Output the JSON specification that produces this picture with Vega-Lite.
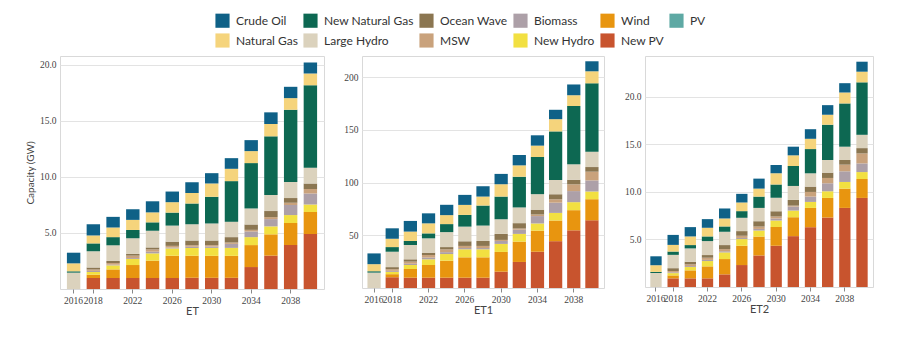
{
  "$schema": "https://vega.github.io/schema/vega-lite/v6.json",
  "background": "white",
  "padding": {"left": 24, "top": 13, "right": 5, "bottom": 5},
  "datasets": {
    "cap": [
      {"panel":"ET","year":"2016","New PV":0,"Wind":0,"New Hydro":0,"Biomass":0,"MSW":0,"Ocean Wave":0,"Large Hydro":1.46,"New Natural Gas":0.12,"Natural Gas":0.71,"Crude Oil":0.95},
      {"panel":"ET","year":"2018","New PV":0.98,"Wind":0.3,"New Hydro":0.24,"Biomass":0.1,"MSW":0.12,"Ocean Wave":0.18,"Large Hydro":1.45,"New Natural Gas":0.7,"Natural Gas":0.71,"Crude Oil":1.0},
      {"panel":"ET","year":"2020","New PV":0.98,"Wind":0.77,"New Hydro":0.36,"Biomass":0.06,"MSW":0.15,"Ocean Wave":0.18,"Large Hydro":1.4,"New Natural Gas":0.73,"Natural Gas":0.86,"Crude Oil":0.95},
      {"panel":"ET","year":"2022","New PV":0.98,"Wind":1.16,"New Hydro":0.54,"Biomass":0.08,"MSW":0.22,"Ocean Wave":0.15,"Large Hydro":1.4,"New Natural Gas":0.74,"Natural Gas":0.9,"Crude Oil":0.95},
      {"panel":"ET","year":"2024","New PV":0.98,"Wind":1.55,"New Hydro":0.65,"Biomass":0.15,"MSW":0.2,"Ocean Wave":0.18,"Large Hydro":1.49,"New Natural Gas":0.75,"Natural Gas":0.89,"Crude Oil":0.99},
      {"panel":"ET","year":"2026","New PV":0.98,"Wind":1.99,"New Hydro":0.65,"Biomass":0.08,"MSW":0.15,"Ocean Wave":0.38,"Large Hydro":1.43,"New Natural Gas":1.16,"Natural Gas":0.93,"Crude Oil":0.95},
      {"panel":"ET","year":"2028","New PV":1.0,"Wind":1.96,"New Hydro":0.71,"Biomass":0.1,"MSW":0.14,"Ocean Wave":0.42,"Large Hydro":1.46,"New Natural Gas":1.85,"Natural Gas":0.92,"Crude Oil":0.98},
      {"panel":"ET","year":"2030","New PV":1.0,"Wind":1.96,"New Hydro":0.71,"Biomass":0.12,"MSW":0.12,"Ocean Wave":0.42,"Large Hydro":1.52,"New Natural Gas":2.38,"Natural Gas":1.19,"Crude Oil":0.92},
      {"panel":"ET","year":"2032","New PV":1.0,"Wind":1.96,"New Hydro":0.71,"Biomass":0.36,"MSW":0.12,"Ocean Wave":0.48,"Large Hydro":1.37,"New Natural Gas":3.63,"Natural Gas":1.1,"Crude Oil":0.95},
      {"panel":"ET","year":"2034","New PV":1.96,"Wind":1.96,"New Hydro":0.71,"Biomass":0.5,"MSW":0.15,"Ocean Wave":0.48,"Large Hydro":1.43,"New Natural Gas":4.05,"Natural Gas":1.07,"Crude Oil":0.98},
      {"panel":"ET","year":"2036","New PV":2.98,"Wind":1.9,"New Hydro":0.71,"Biomass":0.65,"MSW":0.18,"Ocean Wave":0.54,"Large Hydro":1.43,"New Natural Gas":5.24,"Natural Gas":1.1,"Crude Oil":1.04},
      {"panel":"ET","year":"2038","New PV":3.93,"Wind":1.96,"New Hydro":0.71,"Biomass":0.9,"MSW":0.2,"Ocean Wave":0.42,"Large Hydro":1.43,"New Natural Gas":6.45,"Natural Gas":1.04,"Crude Oil":1.01},
      {"panel":"ET","year":"2040","New PV":4.91,"Wind":1.96,"New Hydro":0.68,"Biomass":0.98,"MSW":0.39,"Ocean Wave":0.5,"Large Hydro":1.4,"New Natural Gas":7.38,"Natural Gas":1.04,"Crude Oil":0.98},
      {"panel":"ET1","year":"2016","New PV":0,"Wind":0,"New Hydro":0,"Biomass":0,"MSW":0,"Ocean Wave":0,"Large Hydro":14.6,"New Natural Gas":1.3,"Natural Gas":6.7,"Crude Oil":10.2},
      {"panel":"ET1","year":"2018","New PV":10.2,"Wind":2.9,"New Hydro":2.2,"Biomass":1.0,"MSW":1.5,"Ocean Wave":2.0,"Large Hydro":14.6,"New Natural Gas":4.4,"Natural Gas":7.9,"Crude Oil":9.9},
      {"panel":"ET1","year":"2020","New PV":9.8,"Wind":8.2,"New Hydro":3.8,"Biomass":1.2,"MSW":2.0,"Ocean Wave":2.2,"Large Hydro":13.6,"New Natural Gas":3.8,"Natural Gas":8.9,"Crude Oil":10.1},
      {"panel":"ET1","year":"2022","New PV":9.8,"Wind":12.0,"New Hydro":5.4,"Biomass":1.6,"MSW":2.5,"Ocean Wave":2.2,"Large Hydro":13.6,"New Natural Gas":4.7,"Natural Gas":9.5,"Crude Oil":9.5},
      {"panel":"ET1","year":"2024","New PV":9.8,"Wind":16.1,"New Hydro":6.3,"Biomass":1.8,"MSW":2.6,"Ocean Wave":2.2,"Large Hydro":14.2,"New Natural Gas":7.6,"Natural Gas":8.5,"Crude Oil":9.8},
      {"panel":"ET1","year":"2026","New PV":9.8,"Wind":19.3,"New Hydro":7.6,"Biomass":1.2,"MSW":2.0,"Ocean Wave":4.4,"Large Hydro":13.9,"New Natural Gas":11.1,"Natural Gas":9.5,"Crude Oil":9.5},
      {"panel":"ET1","year":"2028","New PV":9.8,"Wind":19.3,"New Hydro":7.6,"Biomass":1.2,"MSW":2.0,"Ocean Wave":4.7,"Large Hydro":14.6,"New Natural Gas":19.0,"Natural Gas":8.5,"Crude Oil":9.8},
      {"panel":"ET1","year":"2030","New PV":15.5,"Wind":18.7,"New Hydro":7.6,"Biomass":2.8,"MSW":1.0,"Ocean Wave":5.7,"Large Hydro":13.9,"New Natural Gas":21.5,"Natural Gas":11.7,"Crude Oil":9.8},
      {"panel":"ET1","year":"2032","New PV":24.7,"Wind":19.3,"New Hydro":7.3,"Biomass":4.0,"MSW":1.1,"Ocean Wave":5.1,"Large Hydro":14.9,"New Natural Gas":29.1,"Natural Gas":10.8,"Crude Oil":9.8},
      {"panel":"ET1","year":"2034","New PV":34.4,"Wind":20.0,"New Hydro":6.8,"Biomass":7.0,"MSW":1.5,"Ocean Wave":4.6,"Large Hydro":14.7,"New Natural Gas":35.2,"Natural Gas":10.8,"Crude Oil":9.8},
      {"panel":"ET1","year":"2036","New PV":44.4,"Wind":19.6,"New Hydro":7.2,"Biomass":9.7,"MSW":3.2,"Ocean Wave":4.8,"Large Hydro":13.5,"New Natural Gas":46.1,"Natural Gas":11.6,"Crude Oil":8.9},
      {"panel":"ET1","year":"2038","New PV":54.7,"Wind":19.1,"New Hydro":7.6,"Biomass":10.5,"MSW":6.4,"Ocean Wave":4.4,"Large Hydro":14.6,"New Natural Gas":55.3,"Natural Gas":10.2,"Crude Oil":10.2},
      {"panel":"ET1","year":"2040","New PV":64.2,"Wind":20.0,"New Hydro":7.3,"Biomass":10.5,"MSW":8.3,"Ocean Wave":4.4,"Large Hydro":14.6,"New Natural Gas":64.8,"Natural Gas":11.4,"Crude Oil":9.5},
      {"panel":"ET2","year":"2016","New PV":0,"Wind":0,"New Hydro":0,"Biomass":0,"MSW":0,"Ocean Wave":0,"Large Hydro":1.47,"New Natural Gas":0.12,"Natural Gas":0.7,"Crude Oil":0.94},
      {"panel":"ET2","year":"2018","New PV":0.91,"Wind":0.31,"New Hydro":0.24,"Biomass":0.08,"MSW":0.14,"Ocean Wave":0.3,"Large Hydro":1.4,"New Natural Gas":0.35,"Natural Gas":0.7,"Crude Oil":1.05},
      {"panel":"ET2","year":"2020","New PV":0.91,"Wind":0.84,"New Hydro":0.35,"Biomass":0.1,"MSW":0.18,"Ocean Wave":0.28,"Large Hydro":1.4,"New Natural Gas":0.35,"Natural Gas":0.91,"Crude Oil":0.98},
      {"panel":"ET2","year":"2022","New PV":0.91,"Wind":1.26,"New Hydro":0.56,"Biomass":0.12,"MSW":0.23,"Ocean Wave":0.28,"Large Hydro":1.47,"New Natural Gas":0.49,"Natural Gas":0.91,"Crude Oil":0.91},
      {"panel":"ET2","year":"2024","New PV":1.33,"Wind":1.61,"New Hydro":0.7,"Biomass":0.12,"MSW":0.23,"Ocean Wave":0.42,"Large Hydro":1.4,"New Natural Gas":0.56,"Natural Gas":0.84,"Crude Oil":1.05},
      {"panel":"ET2","year":"2026","New PV":2.31,"Wind":2.03,"New Hydro":0.7,"Biomass":0.12,"MSW":0.23,"Ocean Wave":0.49,"Large Hydro":1.4,"New Natural Gas":0.7,"Natural Gas":0.91,"Crude Oil":0.91},
      {"panel":"ET2","year":"2028","New PV":3.32,"Wind":1.99,"New Hydro":0.63,"Biomass":0.17,"MSW":0.25,"Ocean Wave":0.56,"Large Hydro":1.4,"New Natural Gas":1.19,"Natural Gas":0.84,"Crude Oil":1.05},
      {"panel":"ET2","year":"2030","New PV":4.34,"Wind":1.96,"New Hydro":0.7,"Biomass":0.2,"MSW":0.22,"Ocean Wave":0.56,"Large Hydro":1.4,"New Natural Gas":1.4,"Natural Gas":1.19,"Crude Oil":0.87},
      {"panel":"ET2","year":"2032","New PV":5.35,"Wind":1.99,"New Hydro":0.7,"Biomass":0.42,"MSW":0.1,"Ocean Wave":0.6,"Large Hydro":1.47,"New Natural Gas":2.1,"Natural Gas":1.12,"Crude Oil":0.91},
      {"panel":"ET2","year":"2034","New PV":6.29,"Wind":2.03,"New Hydro":0.63,"Biomass":0.56,"MSW":0.49,"Ocean Wave":0.56,"Large Hydro":1.4,"New Natural Gas":2.55,"Natural Gas":1.08,"Crude Oil":1.01},
      {"panel":"ET2","year":"2036","New PV":7.31,"Wind":2.06,"New Hydro":0.7,"Biomass":0.84,"MSW":0.56,"Ocean Wave":0.56,"Large Hydro":1.33,"New Natural Gas":3.71,"Natural Gas":1.05,"Crude Oil":1.01},
      {"panel":"ET2","year":"2038","New PV":8.32,"Wind":2.03,"New Hydro":0.7,"Biomass":1.12,"MSW":0.7,"Ocean Wave":0.49,"Large Hydro":1.4,"New Natural Gas":4.55,"Natural Gas":1.15,"Crude Oil":0.98},
      {"panel":"ET2","year":"2040","New PV":9.37,"Wind":1.99,"New Hydro":0.73,"Biomass":0.91,"MSW":1.05,"Ocean Wave":0.56,"Large Hydro":1.4,"New Natural Gas":5.52,"Natural Gas":1.12,"Crude Oil":1.05}
    ]
  },
  "data": {"name": "cap"},
  "spacing": 18,
  "hconcat": [
    {
      "width": 264, "height": 233,
      "transform": [
        {"filter": "datum.panel == 'ET'"},
        {"fold": ["New PV","Wind","New Hydro","Biomass","MSW","Ocean Wave","Large Hydro","New Natural Gas","Natural Gas","Crude Oil"], "as": ["source","value"]},
        {"window": [{"op": "row_number", "as": "layer"}], "groupby": ["year"]}
      ],
      "mark": {"type": "bar"},
      "encoding": {
        "x": {"field": "year", "type": "ordinal", "title": "ET", "scale": {"paddingInner": 0.32, "paddingOuter": 0.35}, "axis": {"values": ["2016","2018","2022","2026","2030","2034","2038"], "labelAngle": 0}},
        "y": {"field": "value", "type": "quantitative", "stack": "zero", "scale": {"domain": [0, 20.8], "nice": false}, "axis": {"values": [5,10,15,20], "format": ".1f", "title": "Capacity (GW)"}},
        "order": {"field": "layer", "type": "quantitative", "sort": "ascending"},
        "color": {"field": "source", "type": "nominal",
          "scale": {"domain": ["Crude Oil","New Natural Gas","Ocean Wave","Biomass","Wind","PV","Natural Gas","Large Hydro","MSW","New Hydro","New PV"],
                    "range": ["#0f6187","#0d6852","#8b7651","#ada0a8","#e8950f","#5ea9a4","#f5d47c","#dbd2bd","#c9a27c","#f2e041","#c8542e"]},
          "legend": {"title": null, "orient": "none", "legendX": 155, "legendY": -43, "columns": 6, "direction": "horizontal"}}
      }
    },
    {
      "width": 242, "height": 232,
      "transform": [
        {"filter": "datum.panel == 'ET1'"},
        {"fold": ["New PV","Wind","New Hydro","Biomass","MSW","Ocean Wave","Large Hydro","New Natural Gas","Natural Gas","Crude Oil"], "as": ["source","value"]},
        {"window": [{"op": "row_number", "as": "layer"}], "groupby": ["year"]}
      ],
      "mark": {"type": "bar"},
      "encoding": {
        "x": {"field": "year", "type": "ordinal", "title": "ET1", "scale": {"paddingInner": 0.27, "paddingOuter": 0.3}, "axis": {"values": ["2016","2018","2022","2026","2030","2034","2038"], "labelAngle": 0}},
        "y": {"field": "value", "type": "quantitative", "stack": "zero", "scale": {"domain": [0, 220], "nice": false}, "axis": {"values": [50,100,150,200], "format": "d", "title": null}},
        "order": {"field": "layer", "type": "quantitative", "sort": "ascending"},
        "color": {"field": "source", "type": "nominal",
          "scale": {"domain": ["Crude Oil","New Natural Gas","Ocean Wave","Biomass","Wind","PV","Natural Gas","Large Hydro","MSW","New Hydro","New PV"],
                    "range": ["#0f6187","#0d6852","#8b7651","#ada0a8","#e8950f","#5ea9a4","#f5d47c","#dbd2bd","#c9a27c","#f2e041","#c8542e"]}}
      }
    },
    {
      "width": 228, "height": 231,
      "transform": [
        {"filter": "datum.panel == 'ET2'"},
        {"fold": ["New PV","Wind","New Hydro","Biomass","MSW","Ocean Wave","Large Hydro","New Natural Gas","Natural Gas","Crude Oil"], "as": ["source","value"]},
        {"window": [{"op": "row_number", "as": "layer"}], "groupby": ["year"]}
      ],
      "mark": {"type": "bar"},
      "encoding": {
        "x": {"field": "year", "type": "ordinal", "title": "ET2", "scale": {"paddingInner": 0.34, "paddingOuter": 0.31}, "axis": {"values": ["2016","2018","2022","2026","2030","2034","2038"], "labelAngle": 0}},
        "y": {"field": "value", "type": "quantitative", "stack": "zero", "scale": {"domain": [0, 24.3], "nice": false}, "axis": {"values": [5,10,15,20], "format": ".1f", "title": null}},
        "order": {"field": "layer", "type": "quantitative", "sort": "ascending"},
        "color": {"field": "source", "type": "nominal",
          "scale": {"domain": ["Crude Oil","New Natural Gas","Ocean Wave","Biomass","Wind","PV","Natural Gas","Large Hydro","MSW","New Hydro","New PV"],
                    "range": ["#0f6187","#0d6852","#8b7651","#ada0a8","#e8950f","#5ea9a4","#f5d47c","#dbd2bd","#c9a27c","#f2e041","#c8542e"]}}
      }
    }
  ],
  "resolve": {"scale": {"y": "independent", "x": "independent"}},
  "config": {
    "font": "Lato",
    "view": {"stroke": "#d9d9d9"},
    "axis": {"labelFont": "Liberation Sans Narrow", "labelFontSize": 9.5, "labelColor": "#444", "titleFont": "Lato", "titleFontWeight": "normal", "titleFontSize": 11, "titleColor": "#444", "gridColor": "#e3e3e3", "domain": false, "tickColor": "#888"},
    "axisY": {"ticks": false, "labelPadding": 4, "titleFontSize": 10},
    "axisX": {"grid": false, "tickSize": 4, "labelPadding": 2, "titlePadding": 1},
    "legend": {"labelFont": "Lato", "labelFontSize": 12, "labelColor": "#333", "symbolType": "square", "symbolSize": 200, "symbolStrokeWidth": 0, "symbolOpacity": 1, "columnPadding": 5, "rowPadding": 5, "labelOffset": 6}
  }
}
